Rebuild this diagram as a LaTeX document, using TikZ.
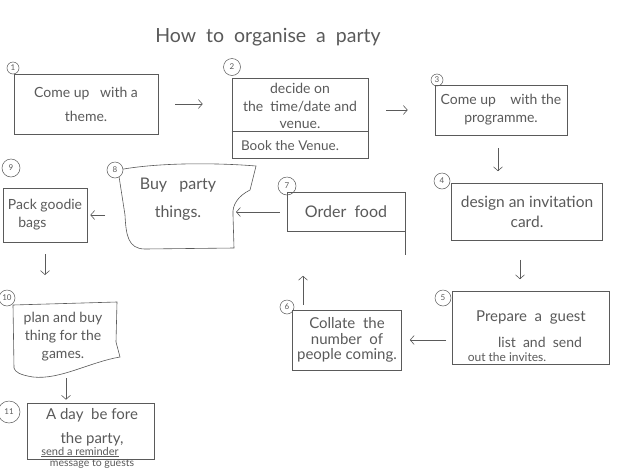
\documentclass[tikz,border=0pt]{standalone}
\usepackage{fontspec}
\setmainfont{Lato}
\usetikzlibrary{arrows.meta}
\definecolor{pencil}{RGB}{90,90,90}
\begin{document}
\begin{tikzpicture}[x=1pt,y=-1pt,
  box/.style={draw=pencil, line width=0.6pt, text=pencil, align=center, inner sep=0pt},
  plain/.style={text=pencil, align=center, inner sep=0pt},
  num/.style={circle, draw=pencil, line width=0.5pt, inner sep=0pt, text=pencil, font=\fontsize{8}{9}\selectfont},
  arr/.style={draw=pencil, line width=0.6pt, -{Straight Barb[length=4pt,width=9pt]}},
  edge/.style={draw=pencil, line width=0.6pt},
  big/.style={font=\fontsize{14}{24}\selectfont},
  mid/.style={font=\fontsize{14}{18}\selectfont}]
\useasboundingbox[fill=white] (0,0) rectangle (640,472);

% title
\node[plain, font=\fontsize{19.5}{22}\selectfont] (title) at (268,37) {How\ \ to\ \ organise\ \ a\ \ party};

% 1
\node[box, big, minimum width=144pt, minimum height=60pt] (b1) at (86,104) {Come up\ \ \ with a\\theme.};
\node[num, minimum size=12pt] (c1) at (13,68) {1};

% 2
\node[box, minimum width=136pt, minimum height=80pt] (b2) at (300,118) {};
\node[plain, font=\fontsize{14}{17.5}\selectfont] (t2a) at (300,106) {decide on\\the\ \ time/date and\\venue.};
\node[plain, font=\fontsize{13.5}{15}\selectfont] (t2b) at (290,146) {Book the Venue.};
\draw[edge] (b2.west |- 0,131) -- (b2.east |- 0,131);
\node[num, minimum size=17pt] (c2) at (232,67) {2};

% 3
\node[box, mid, minimum width=132pt, minimum height=50pt] (b3) at (501,110) {Come up\ \ \ \ with the\\programme.};
\node[num, minimum size=12pt] (c3) at (437,80) {3};

% 4
\node[box, font=\fontsize{15.5}{20}\selectfont, minimum width=151pt, minimum height=57pt] (b4) at (527,212) {design\ an\ invitation\\card.};
\node[num, minimum size=16pt] (c4) at (442,181) {4};

% 5
\node[box, minimum width=157pt, minimum height=73pt] (b5) at (531,328) {};
\node[plain, font=\fontsize{15}{18}\selectfont] (t5a) at (531,317) {Prepare\ \ a\ \ guest};
\node[plain, mid] (t5b) at (540,342) {list\ \ and\ \ send};
\node[plain, font=\fontsize{12}{13}\selectfont] (t5c) at (507,357) {out the invites.};
\node[num, minimum size=16pt] (c5) at (443,298) {5};

% 6
\node[box, font=\fontsize{15}{15.5}\selectfont, minimum width=109pt, minimum height=60pt] (b6) at (347,340) {Collate\ \ the\\number\ \ of\\people coming.};
\node[num, minimum size=14pt] (c6) at (287,307) {6};

% 7
\node[box, font=\fontsize{16}{20}\selectfont, minimum width=118pt, minimum height=39pt] (b7) at (346,212) {Order\ \ food};
\draw[edge] (b7.south east) -- ++(0,23);
\node[num, minimum size=18pt] (c7) at (287,186) {7};

% 8
\node[plain, font=\fontsize{16}{28}\selectfont] (b8) at (178,199) {Buy\ \ \ party\\things.};
\draw[edge] (118,170) .. controls (160,162) and (220,163) .. (256,166)
  -- (250,190) .. controls (238,196) and (232,205) .. (233,215)
  -- (234,248) -- (145,249) .. controls (128,249) and (126,235) .. (125,215) -- cycle;
\node[num, minimum size=16pt, fill=white] (c8) at (115,170) {8};

% 9
\node[box, mid, minimum width=84pt, minimum height=54pt] (b9) at (45,215) {Pack goodie\\bags\ \ \ \ \ \ \ \ };
\node[num, minimum size=18pt] (c9) at (11,168) {9};

% 10
\node[plain, mid] (b10) at (63,337) {plan and buy\\thing for the\\games.};
\draw[edge] (13,305) -- (117,302) -- (116,342) -- (120,357)
  .. controls (90,362) and (60,380) .. (33,377)
  .. controls (20,375) and (15,372) .. (14,368) -- cycle;
\coordinate (b10s) at (66,376);
\node[num, minimum size=16pt, fill=white] (c10) at (7,298) {10};

% 11
\node[box, minimum width=127pt, minimum height=56pt] (b11) at (91,431) {};
\node[plain, font=\fontsize{15}{24}\selectfont] (t11) at (92,427) {A day\ \ be fore\\the party,};
\node[plain, font=\fontsize{11}{12}\selectfont] (t11b) at (80,452) {\underline{send a reminder}};
\node[plain, font=\fontsize{10.5}{12}\selectfont] (t11c) at (92,464) {message to guests};
\node[num, minimum size=22pt] (c11) at (9,412) {11};

% arrows
\draw[arr, shorten <=17pt, shorten >=29pt] (b1.east) -- (b1.east -| b2.west);
\draw[arr, shorten <=18pt, shorten >=27pt] (b3.west -| b2.east) -- (b3.west);
\draw[arr, shorten <=13pt, shorten >=12pt] ([xshift=-3pt]b3.south) -- ([xshift=-3pt]b3.south |- b4.north);
\draw[arr, shorten <=19pt, shorten >=12pt] ([xshift=-7pt]b4.south) -- ([xshift=-7pt]b4.south |- b5.north);
\draw[arr, shorten <=6pt, shorten >=8pt] (b6.east -| b5.west) -- (b6.east);
\draw[arr, shorten <=5pt, shorten >=44pt] ([xshift=-44pt]b6.north) -- ([xshift=-43pt]b7.south);
\draw[arr, shorten <=7pt, shorten >=3pt] (b7.west) -- (b7.west -| 233,0);
\draw[arr, shorten <=12pt, shorten >=3pt] (b9.east -| 117,0) -- (b9.east);
\draw[arr, shorten <=12pt, shorten >=27pt] (b9.south) -- (b9.south |- 0,302);
\draw[arr, shorten <=2pt, shorten >=3pt] (b10s) -- (b10s |- b11.north);
\end{tikzpicture}
\end{document}
